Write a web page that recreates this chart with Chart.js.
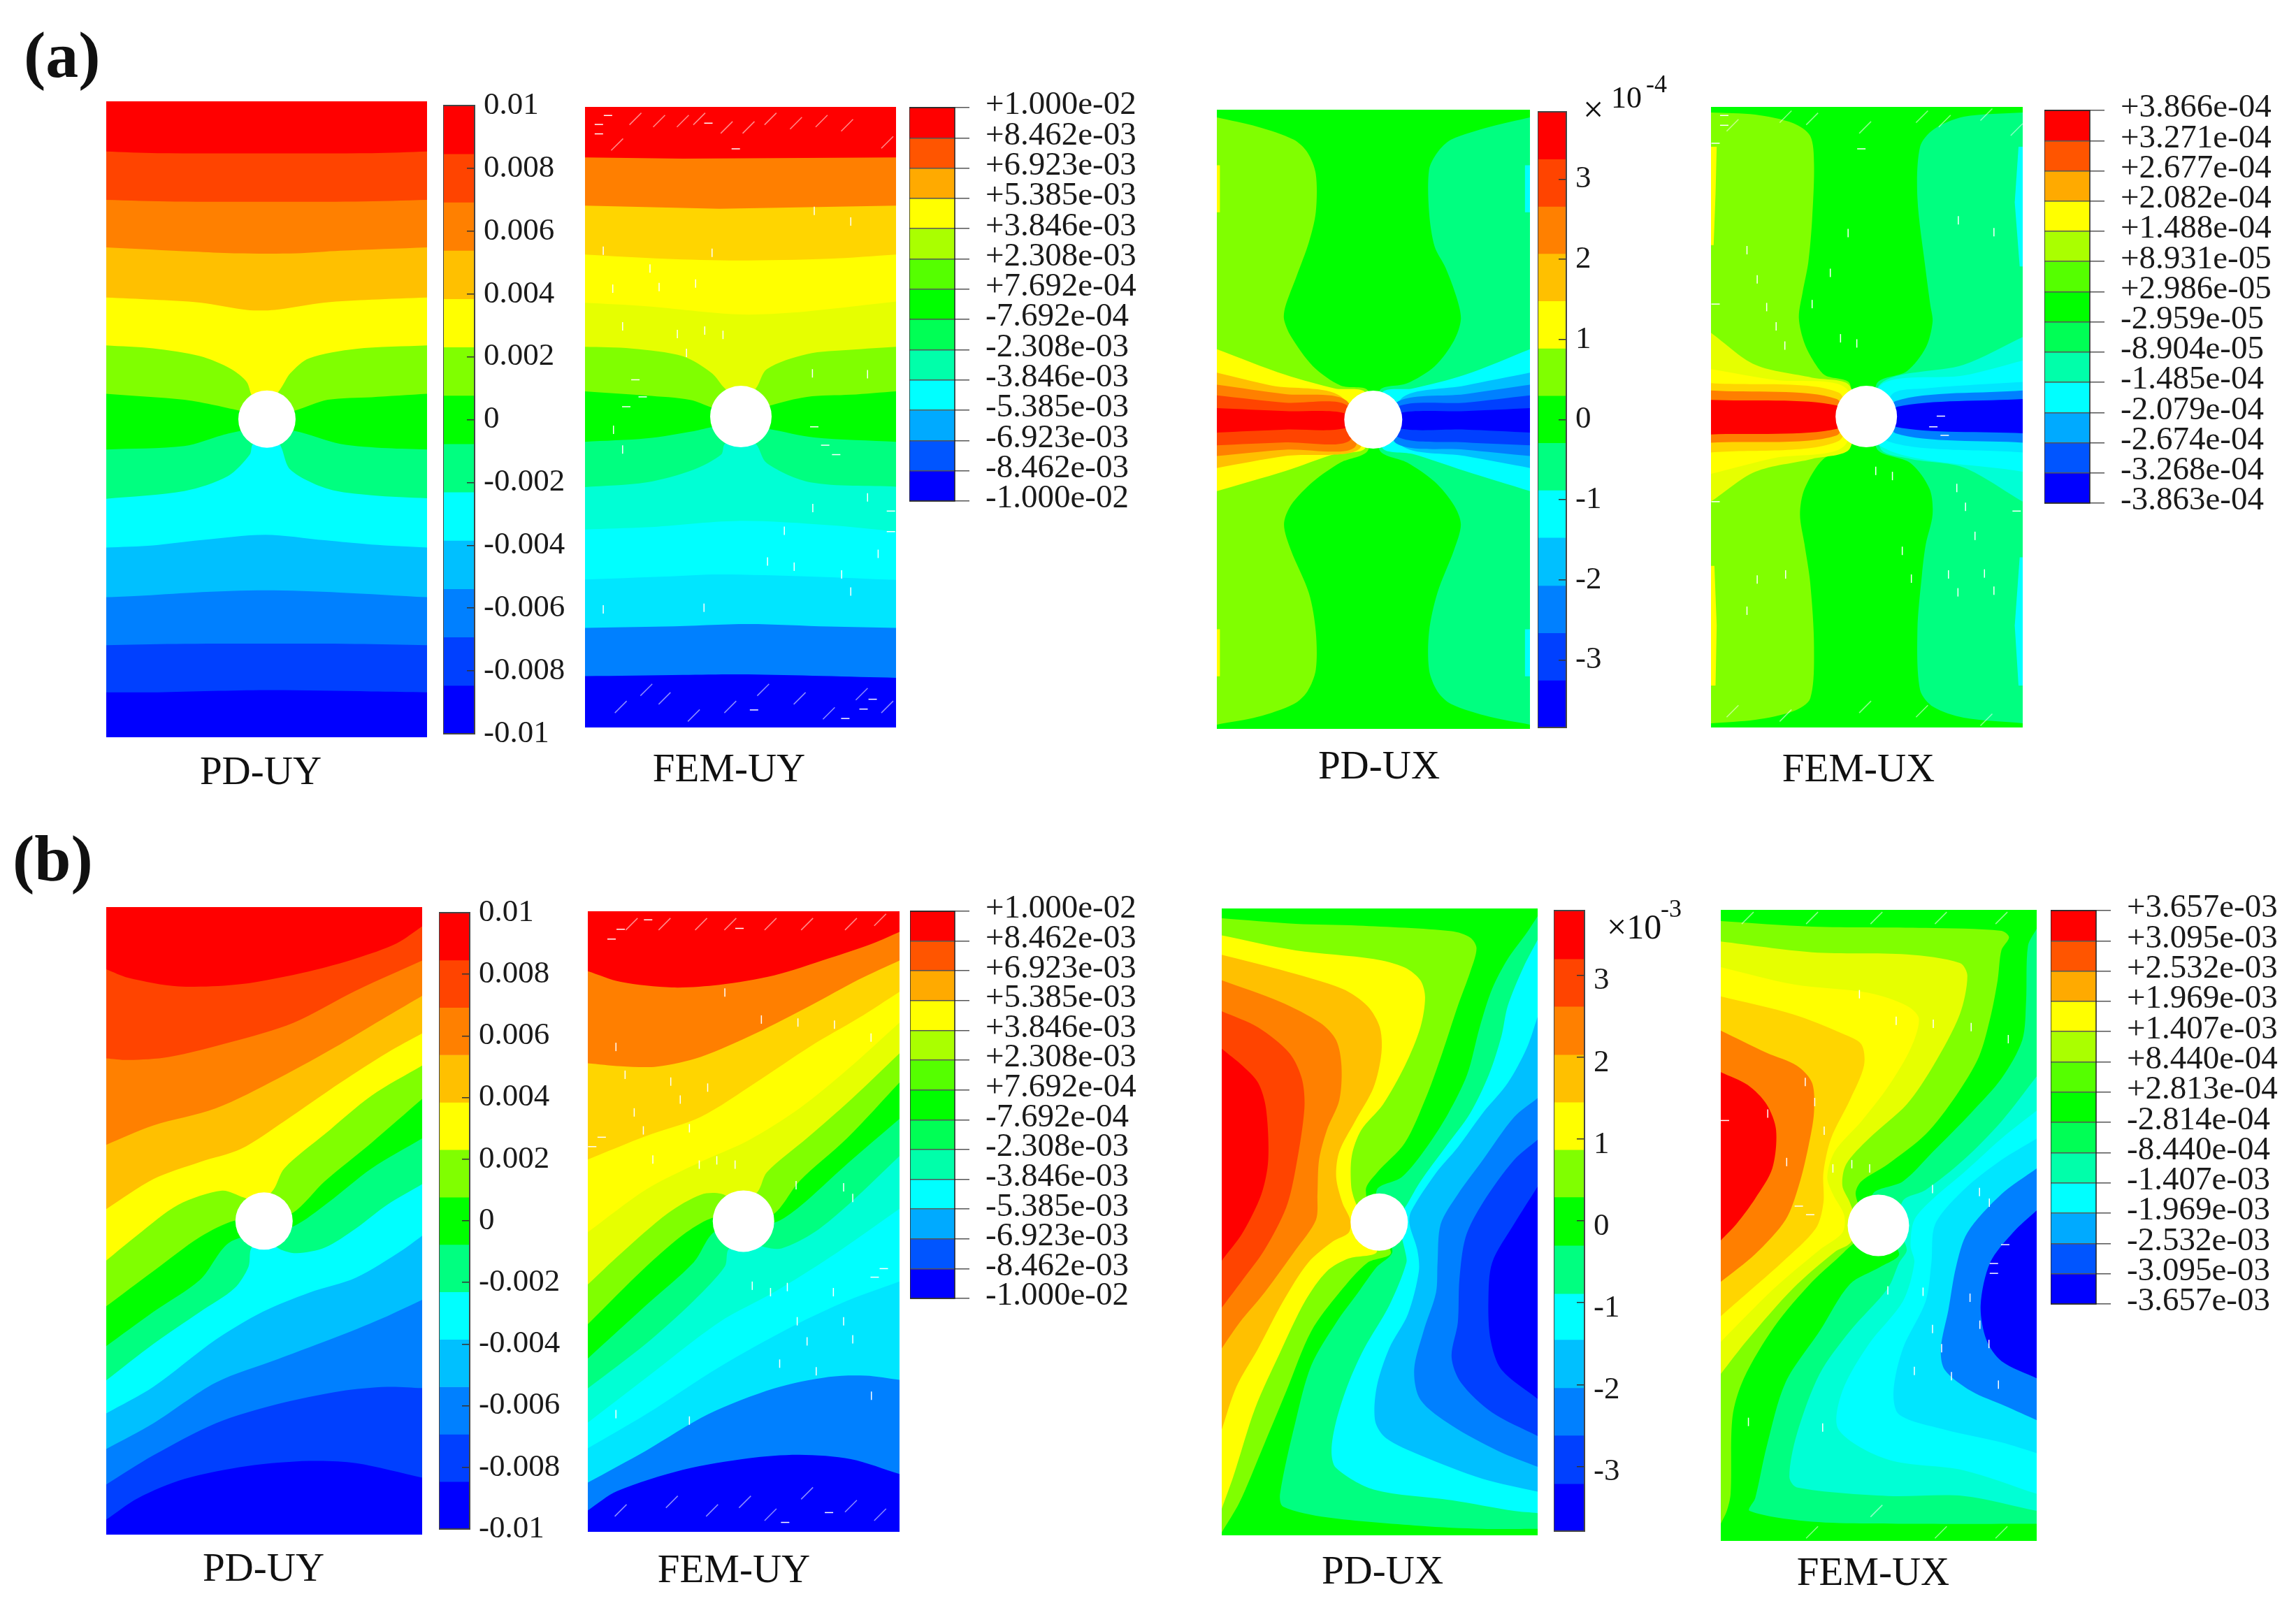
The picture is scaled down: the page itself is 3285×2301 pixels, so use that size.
<!DOCTYPE html>
<html>
<head>
<meta charset="utf-8">
<script src="https://cdn.jsdelivr.net/npm/chart.js@4"></script>
<style>
html, body { margin: 0; background: #fff; }
#fig { position: relative; width: 3285px; height: 2301px; overflow: hidden; }
#fig canvas { position: absolute; }
.txt { position: absolute; font-family: 'Liberation Serif', serif; color: #111; white-space: nowrap; line-height: 1; }
</style>
</head>
<body>
<div id="fig"></div>
<script>
// band colours, red (highest) to blue (lowest)
const pdColors = ['#ff0000', '#ff4400', '#ff8000', '#ffc000', '#ffff00', '#80ff00', '#00ff00', '#00ff80', '#00ffff', '#00c0ff', '#0080ff', '#0040ff', '#0000ff'];
const femColors = ['#ff0000', '#ff7f00', '#ffd500', '#ffff00', '#e6ff00', '#80ff00', '#00ff00', '#00ff80', '#00ffd5', '#00ffff', '#00e6ff', '#0080ff', '#0000ff'];
const legendColors = ['#ff0000', '#ff5500', '#ffaa00', '#ffff00', '#aaff00', '#55ff00', '#00ff00', '#00ff55', '#00ffaa', '#00ffff', '#00aaff', '#0055ff', '#0000ff'];

// tick labels
const pdUyTicks = ['0.01', '0.008', '0.006', '0.004', '0.002', '0', '-0.002', '-0.004', '-0.006', '-0.008', '-0.01'];
const pdUxTicks = ['3', '2', '1', '0', '-1', '-2', '-3'];
const femUyLabels = ['+1.000e-02', '+8.462e-03', '+6.923e-03', '+5.385e-03', '+3.846e-03', '+2.308e-03', '+7.692e-04', '-7.692e-04', '-2.308e-03', '-3.846e-03', '-5.385e-03', '-6.923e-03', '-8.462e-03', '-1.000e-02'];
const femUxALabels = ['+3.866e-04', '+3.271e-04', '+2.677e-04', '+2.082e-04', '+1.488e-04', '+8.931e-05', '+2.986e-05', '-2.959e-05', '-8.904e-05', '-1.485e-04', '-2.079e-04', '-2.674e-04', '-3.268e-04', '-3.863e-04'];
const femUxBLabels = ['+3.657e-03', '+3.095e-03', '+2.532e-03', '+1.969e-03', '+1.407e-03', '+8.440e-04', '+2.813e-04', '-2.814e-04', '-8.440e-04', '-1.407e-03', '-1.969e-03', '-2.532e-03', '-3.095e-03', '-3.657e-03'];
const pdUxAEdges = [3.84, 3.25, 2.66, 2.07, 1.48, 0.89, 0.30, -0.29, -0.88, -1.47, -2.07, -2.66, -3.25, -3.84];
const pdUxBEdges = [3.79, 3.20, 2.62, 2.03, 1.45, 0.87, 0.29, -0.30, -0.89, -1.45, -2.04, -2.62, -3.21, -3.79];

// contour lines, in that plate's own reading units: [band, close side, x,y,x,y...]
// painted first to last. U = fill upwards, L / R = fill out to that edge
const aPdUy = [
  [12, 'U', [50, 1600, 1078, 1600]],
  [11, 'U', [50, 1405, 215, 1405, 560, 1400, 900, 1403, 1078, 1405]],
  [10, 'U', [50, 1295, 270, 1292, 850, 1292, 1078, 1295]],
  [9, 'U', [50, 1183, 150, 1180, 330, 1172, 560, 1167, 800, 1172, 1078, 1183]],
  [8, 'U', [50, 1067, 200, 1062, 350, 1050, 560, 1037, 750, 1050, 900, 1060, 1078, 1067]],
  [7, 'U', [50, 953, 300, 935, 440, 900, 510, 850, 520, 825, 565, 810, 605, 825, 640, 885, 760, 930, 900, 945, 1078, 952]],
  [6, 'U', [50, 838, 300, 830, 420, 805, 480, 795, 565, 790, 655, 795, 800, 825, 950, 835, 1078, 838]],
  [5, 'U', [50, 708, 300, 722, 400, 735, 475, 747, 565, 760, 655, 747, 760, 722, 900, 716, 1078, 708]],
  [4, 'U', [50, 595, 200, 602, 350, 620, 450, 650, 500, 680, 520, 715, 565, 725, 605, 700, 640, 660, 700, 625, 850, 603, 1078, 595]],
  [3, 'U', [50, 483, 200, 488, 350, 495, 500, 512, 590, 512, 750, 495, 900, 488, 1078, 483]],
  [2, 'U', [50, 366, 330, 376, 460, 380, 660, 380, 800, 374, 1078, 366]],
  [1, 'U', [50, 255, 270, 259, 850, 259, 1078, 255]],
  [0, 'U', [50, 142, 215, 146, 900, 146, 1078, 142]]
];
const aFemUy = [
  [12, 'U', [32, 1600, 884, 1600]],
  [11, 'U', [32, 1368, 300, 1365, 480, 1364, 884, 1372]],
  [10, 'U', [32, 1255, 250, 1252, 480, 1246, 700, 1252, 884, 1255]],
  [9, 'U', [32, 1142, 250, 1135, 400, 1130, 650, 1135, 884, 1143]],
  [8, 'U', [32, 1025, 200, 1020, 450, 1005, 700, 1015, 884, 1030]],
  [7, 'U', [32, 926, 200, 915, 330, 885, 405, 850, 415, 825, 460, 810, 500, 825, 530, 870, 650, 915, 884, 925]],
  [6, 'U', [32, 820, 200, 812, 330, 795, 385, 785, 460, 780, 535, 790, 660, 810, 884, 820]],
  [5, 'U', [32, 702, 200, 712, 320, 722, 380, 740, 460, 760, 540, 735, 640, 715, 760, 710, 884, 702]],
  [4, 'U', [32, 598, 160, 602, 300, 620, 380, 660, 415, 695, 460, 720, 500, 695, 530, 650, 640, 615, 760, 605, 884, 598]],
  [3, 'U', [32, 495, 200, 503, 450, 522, 600, 518, 884, 492]],
  [2, 'U', [32, 382, 250, 392, 450, 396, 700, 392, 884, 382]],
  [1, 'U', [32, 268, 400, 275, 884, 268]],
  [0, 'U', [32, 155, 300, 158, 884, 155]]
];
const aPdUx = [
  [6, 'U', [52, 1600, 1185, 1600]],
  [5, 'L', [52, 78, 200, 100, 330, 130, 380, 160, 410, 210, 410, 300, 385, 370, 340, 450, 300, 520, 295, 550, 320, 590, 400, 660, 500, 705, 600, 718, 600, 855, 500, 885, 400, 930, 320, 985, 295, 1030, 320, 1090, 385, 1190, 410, 1280, 410, 1370, 380, 1420, 330, 1450, 200, 1480, 52, 1498]],
  [7, 'R', [1185, 78, 1040, 100, 900, 130, 850, 160, 820, 200, 820, 300, 840, 380, 880, 430, 920, 500, 935, 550, 910, 600, 840, 660, 740, 700, 640, 718, 640, 855, 740, 885, 840, 930, 910, 985, 935, 1030, 910, 1090, 850, 1190, 820, 1280, 820, 1370, 850, 1420, 900, 1450, 1040, 1480, 1185, 1498]],
  [4, 'L', [63, 190, 63, 300]],
  [4, 'L', [63, 1275, 63, 1385]],
  [8, 'R', [1167, 190, 1167, 300]],
  [8, 'R', [1167, 1275, 1167, 1385]],
  [4, 'L', [52, 620, 300, 680, 480, 712, 590, 722, 590, 850, 480, 865, 300, 905, 52, 952]],
  [3, 'L', [52, 675, 250, 705, 500, 730, 570, 852, 300, 870, 52, 898]],
  [2, 'L', [52, 703, 300, 725, 520, 740, 550, 850, 300, 855, 52, 870]],
  [1, 'L', [52, 728, 300, 745, 520, 750, 530, 835, 300, 838, 52, 845]],
  [0, 'L', [52, 758, 300, 765, 515, 770, 515, 805, 300, 808, 52, 815]],
  [8, 'R', [1185, 620, 950, 680, 760, 712, 650, 722, 650, 850, 760, 865, 950, 905, 1185, 952]],
  [9, 'R', [1185, 675, 950, 705, 720, 735, 720, 845, 950, 870, 1185, 898]],
  [10, 'R', [1185, 703, 950, 725, 700, 745, 700, 840, 950, 855, 1185, 870]],
  [11, 'R', [1185, 728, 950, 745, 705, 755, 705, 825, 950, 838, 1185, 845]],
  [12, 'R', [1185, 758, 950, 765, 710, 770, 710, 805, 950, 808, 1185, 815]]
];
const aFemUx = [
  [6, 'U', [33, 1600, 856, 1600]],
  [5, 'L', [33, 50, 150, 55, 250, 75, 295, 105, 305, 170, 300, 300, 290, 400, 275, 470, 265, 530, 280, 590, 310, 640, 335, 665, 400, 685, 400, 835, 330, 860, 280, 930, 268, 990, 280, 1060, 295, 1150, 305, 1300, 295, 1420, 250, 1450, 150, 1470, 33, 1478]],
  [7, 'R', [856, 50, 700, 60, 620, 90, 585, 130, 578, 250, 600, 420, 612, 500, 618, 540, 600, 600, 550, 655, 470, 685, 470, 835, 560, 870, 610, 930, 618, 990, 600, 1060, 590, 1130, 578, 1260, 585, 1400, 620, 1440, 700, 1465, 856, 1478]],
  [3, 'L', [48, 130, 45, 240, 40, 360]],
  [3, 'L', [42, 1110, 48, 1250, 45, 1390]],
  [9, 'R', [845, 130, 835, 260, 848, 410]],
  [9, 'R', [848, 1090, 835, 1250, 845, 1390]],
  [4, 'L', [33, 565, 150, 640, 300, 670, 400, 690, 400, 835, 300, 860, 150, 890, 33, 960]],
  [3, 'L', [33, 650, 200, 675, 390, 695, 385, 830, 200, 858, 33, 895]],
  [2, 'L', [33, 683, 370, 705, 370, 818, 33, 845]],
  [1, 'L', [33, 700, 365, 720, 365, 805, 33, 822]],
  [0, 'L', [33, 722, 365, 735, 365, 790, 33, 803]],
  [8, 'R', [856, 575, 700, 640, 480, 685, 480, 835, 560, 860, 700, 880, 856, 960]],
  [9, 'R', [856, 630, 700, 665, 480, 688, 480, 830, 856, 890]],
  [10, 'R', [856, 680, 600, 695, 510, 710, 490, 815, 856, 845]],
  [11, 'R', [856, 700, 520, 725, 520, 800, 856, 822]],
  [12, 'R', [856, 720, 525, 738, 520, 785, 856, 800]]
];
const bPdUy = [
  [12, 'U', [49, 1600, 1062, 1600]],
  [11, 'U', [49, 1460, 150, 1410, 300, 1365, 500, 1335, 700, 1323, 850, 1328, 1062, 1362]],
  [10, 'U', [49, 1378, 200, 1310, 400, 1235, 600, 1190, 800, 1160, 950, 1150, 1062, 1153]],
  [9, 'U', [49, 1295, 200, 1235, 400, 1140, 600, 1085, 800, 1030, 950, 985, 1062, 947]],
  [8, 'U', [49, 1212, 200, 1150, 400, 1040, 550, 975, 700, 930, 850, 895, 1000, 830, 1062, 797]],
  [7, 'U', [49, 1135, 200, 1050, 350, 975, 460, 920, 505, 870, 515, 825, 560, 810, 610, 830, 660, 838, 750, 825, 850, 780, 950, 725, 1062, 677]],
  [6, 'U', [49, 1055, 200, 975, 350, 900, 440, 815, 550, 790, 650, 775, 760, 720, 900, 640, 1062, 570]],
  [5, 'U', [49, 962, 200, 880, 350, 800, 460, 762, 550, 760, 645, 745, 750, 670, 900, 580, 1062, 478]],
  [4, 'U', [49, 855, 150, 795, 280, 725, 420, 692, 490, 708, 540, 720, 585, 690, 620, 640, 750, 560, 900, 470, 1062, 400]],
  [3, 'U', [49, 735, 200, 665, 350, 625, 480, 595, 620, 530, 800, 440, 950, 370, 1062, 325]],
  [2, 'U', [49, 585, 200, 540, 400, 500, 600, 430, 800, 350, 950, 285, 1062, 237]],
  [1, 'U', [49, 383, 120, 387, 250, 380, 450, 345, 650, 300, 850, 225, 1062, 155]],
  [0, 'U', [49, 175, 120, 195, 280, 215, 480, 210, 700, 180, 850, 150, 980, 115, 1062, 75]]
];
const bFemUy = [
  [12, 'U', [40, 1600, 893, 1600]],
  [11, 'U', [40, 1440, 120, 1395, 300, 1345, 480, 1318, 620, 1310, 760, 1320, 893, 1355]],
  [10, 'U', [40, 1375, 200, 1300, 370, 1215, 550, 1155, 700, 1128, 800, 1125, 893, 1135]],
  [9, 'U', [40, 1295, 200, 1215, 400, 1105, 600, 1010, 750, 950, 893, 905]],
  [8, 'U', [40, 1235, 200, 1130, 400, 1000, 550, 930, 700, 850, 893, 735]],
  [7, 'U', [40, 1155, 200, 1050, 330, 950, 415, 870, 425, 830, 470, 810, 525, 825, 570, 828, 660, 790, 760, 720, 893, 612]],
  [6, 'U', [40, 1085, 200, 960, 330, 860, 385, 790, 470, 770, 550, 768, 620, 730, 750, 630, 893, 525]],
  [5, 'U', [40, 1005, 200, 870, 310, 790, 385, 755, 470, 750, 545, 750, 620, 670, 750, 570, 893, 440]],
  [4, 'U', [40, 912, 130, 840, 260, 745, 350, 702, 405, 700, 460, 720, 505, 695, 530, 650, 640, 570, 760, 480, 893, 372]],
  [3, 'U', [40, 790, 200, 690, 350, 625, 480, 575, 620, 500, 750, 410, 893, 300]],
  [2, 'U', [40, 620, 200, 565, 350, 520, 500, 440, 650, 355, 780, 290, 893, 228]],
  [1, 'U', [40, 395, 130, 402, 230, 403, 350, 380, 500, 325, 650, 260, 780, 200, 893, 155]],
  [0, 'U', [40, 180, 130, 205, 270, 218, 400, 212, 550, 190, 700, 150, 820, 115, 893, 88]]
];
const bPdUx = [
  [6, 'U', [63, 1600, 1076, 1600]],
  [5, 'L', [63, 55, 300, 68, 500, 72, 800, 85, 860, 100, 880, 125, 860, 180, 820, 260, 770, 370, 720, 470, 650, 580, 560, 650, 525, 690, 560, 780, 605, 838, 530, 860, 440, 930, 350, 1020, 270, 1160, 190, 1300, 120, 1420, 63, 1490]],
  [4, 'L', [63, 95, 300, 130, 550, 150, 650, 170, 700, 200, 715, 240, 700, 310, 650, 400, 580, 490, 510, 550, 480, 610, 478, 680, 490, 715, 530, 780, 560, 835, 470, 850, 400, 880, 330, 950, 250, 1070, 170, 1200, 100, 1360, 63, 1435]],
  [3, 'L', [63, 140, 250, 175, 450, 220, 530, 260, 570, 310, 575, 370, 550, 450, 490, 530, 440, 600, 430, 660, 450, 720, 475, 760, 470, 790, 420, 810, 340, 860, 260, 950, 180, 1060, 110, 1150, 63, 1250]],
  [2, 'L', [63, 200, 250, 250, 380, 300, 430, 340, 447, 400, 440, 480, 400, 550, 375, 620, 370, 700, 365, 760, 300, 830, 200, 930, 120, 1000, 63, 1060]],
  [1, 'L', [63, 272, 180, 310, 280, 370, 320, 430, 328, 500, 300, 640, 270, 730, 200, 830, 130, 900, 63, 965]],
  [0, 'L', [63, 360, 130, 400, 180, 440, 205, 500, 212, 620, 190, 700, 130, 790, 63, 855]],
  [7, 'R', [1076, 50, 1040, 90, 980, 150, 930, 220, 890, 310, 850, 420, 790, 510, 720, 590, 640, 660, 560, 690, 580, 780, 610, 835, 560, 870, 500, 930, 430, 1000, 350, 1100, 300, 1230, 250, 1400, 260, 1430, 400, 1455, 700, 1475, 900, 1482, 1076, 1482]],
  [8, 'R', [1076, 105, 1030, 170, 980, 260, 960, 330, 920, 420, 860, 510, 780, 590, 700, 670, 660, 720, 630, 760, 640, 800, 650, 830, 655, 860, 600, 960, 520, 1060, 470, 1140, 430, 1230, 415, 1300, 430, 1340, 550, 1390, 800, 1415, 1000, 1440, 1076, 1445]],
  [9, 'R', [1076, 285, 1040, 360, 980, 440, 900, 510, 820, 590, 750, 650, 670, 740, 665, 770, 690, 830, 695, 880, 660, 980, 600, 1060, 560, 1150, 555, 1230, 590, 1270, 700, 1310, 900, 1365, 1076, 1395]],
  [10, 'R', [1076, 475, 1000, 520, 900, 620, 820, 700, 765, 770, 755, 860, 750, 930, 710, 1020, 680, 1110, 700, 1180, 800, 1240, 950, 1300, 1076, 1337]],
  [11, 'R', [1076, 572, 1000, 620, 900, 720, 845, 800, 825, 900, 820, 1000, 800, 1080, 830, 1140, 930, 1210, 1076, 1265]],
  [12, 'R', [1076, 682, 1000, 770, 930, 860, 918, 950, 925, 1040, 960, 1110, 1076, 1178]]
];
const bFemUx = [
  [6, 'U', [59, 1600, 893, 1600]],
  [5, 'L', [59, 62, 300, 75, 600, 78, 800, 85, 820, 100, 800, 130, 790, 200, 770, 290, 740, 380, 680, 470, 600, 560, 500, 630, 430, 670, 415, 700, 440, 780, 385, 835, 300, 905, 200, 1010, 120, 1130, 90, 1220, 85, 1400, 75, 1440, 59, 1470]],
  [4, 'L', [59, 110, 300, 135, 550, 140, 690, 160, 710, 190, 690, 280, 620, 400, 550, 490, 450, 570, 390, 630, 380, 680, 400, 720, 420, 780, 400, 815, 360, 835, 250, 920, 130, 1040, 59, 1120]],
  [3, 'L', [59, 170, 250, 210, 450, 230, 550, 260, 582, 290, 560, 360, 500, 450, 430, 530, 360, 600, 340, 660, 355, 700, 385, 750, 380, 790, 320, 830, 200, 920, 59, 1045]],
  [2, 'L', [59, 238, 250, 280, 380, 325, 430, 350, 437, 400, 400, 480, 350, 570, 330, 650, 330, 720, 310, 780, 220, 860, 130, 930, 59, 985]],
  [1, 'L', [59, 318, 180, 370, 260, 400, 300, 440, 305, 510, 290, 590, 265, 680, 230, 760, 150, 840, 59, 905]],
  [0, 'L', [59, 415, 130, 445, 180, 490, 205, 550, 195, 640, 150, 710, 100, 770, 59, 808]],
  [7, 'R', [893, 80, 870, 120, 865, 250, 855, 340, 800, 430, 720, 510, 620, 600, 540, 670, 460, 700, 480, 780, 530, 840, 480, 870, 400, 910, 320, 1020, 230, 1140, 180, 1290, 150, 1410, 135, 1440, 300, 1465, 600, 1470, 893, 1470]],
  [8, 'R', [893, 425, 800, 530, 700, 620, 600, 690, 540, 715, 530, 780, 550, 830, 530, 860, 500, 920, 400, 1020, 320, 1120, 260, 1260, 240, 1360, 260, 1385, 500, 1405, 700, 1405, 893, 1440]],
  [9, 'R', [893, 505, 800, 570, 700, 650, 620, 710, 570, 760, 560, 820, 570, 860, 540, 950, 450, 1050, 380, 1160, 370, 1250, 500, 1320, 700, 1345, 893, 1400]],
  [10, 'R', [893, 570, 800, 620, 700, 690, 625, 770, 615, 860, 600, 950, 540, 1060, 515, 1160, 530, 1215, 650, 1250, 800, 1280, 893, 1305]],
  [11, 'R', [893, 640, 800, 700, 710, 790, 680, 870, 660, 970, 640, 1060, 650, 1110, 720, 1160, 810, 1195, 893, 1228]],
  [12, 'R', [893, 738, 830, 790, 770, 860, 745, 960, 760, 1040, 800, 1090, 893, 1130]]
];

// white mesh flecks on the FEM plates, x,y: upright, flat and slanted
const aFemUyUp = [210, 415, 108, 462, 235, 458, 335, 450, 380, 378, 82, 373, 760, 305, 660, 280, 135, 550, 285, 568, 360, 560, 410, 570, 310, 612, 655, 660, 806, 662, 110, 792, 135, 838, 656, 975, 806, 950, 578, 1028, 532, 1100, 605, 1112, 835, 1082, 735, 1130, 760, 1170, 82, 1212, 358, 1208];
const aFemUyFlat = [70, 78, 70, 100, 95, 57, 370, 75, 445, 135, 190, 715, 170, 675, 145, 738, 660, 785, 720, 850, 690, 828, 870, 982, 870, 1030, 495, 1447, 820, 1422, 795, 1445, 745, 1467];
const aFemUySlant = [120, 125, 170, 65, 235, 70, 300, 70, 345, 65, 420, 85, 480, 85, 540, 65, 610, 75, 680, 70, 750, 80, 860, 120, 130, 1440, 200, 1400, 250, 1420, 330, 1460, 430, 1440, 520, 1400, 620, 1420, 700, 1455, 790, 1410, 860, 1440];
const aFemUxUp = [395, 332, 128, 372, 155, 440, 348, 425, 300, 498, 180, 505, 205, 550, 375, 578, 418, 590, 228, 595, 686, 302, 780, 330, 512, 900, 468, 888, 682, 928, 705, 972, 128, 1215, 155, 1142, 230, 1130, 660, 1130, 755, 1128, 780, 1168, 685, 1172, 538, 1075, 562, 1140, 730, 1040];
const aFemUxFlat = [68, 57, 68, 80, 45, 122, 430, 135, 45, 498, 45, 960, 840, 982, 620, 785, 650, 805, 640, 760];
const aFemUxSlant = [90, 80, 230, 60, 300, 65, 440, 85, 590, 60, 650, 70, 760, 55, 840, 90, 90, 1450, 230, 1460, 440, 1440, 590, 1450, 760, 1470];
const bFemUyUp = [415, 230, 515, 293, 615, 300, 715, 305, 815, 335, 117, 357, 142, 422, 267, 438, 368, 452, 293, 480, 167, 510, 192, 552, 318, 547, 218, 620, 345, 632, 393, 622, 443, 632, 610, 680, 740, 685, 765, 710, 490, 915, 540, 930, 586, 918, 712, 930, 613, 998, 740, 998, 640, 1045, 765, 1040, 565, 1097, 665, 1115, 816, 1172, 117, 1215, 318, 1230];
const bFemUyFlat = [205, 60, 130, 82, 105, 105, 455, 80, 78, 568, 52, 590, 850, 875, 825, 895, 700, 1445, 580, 1468];
const bFemUySlant = [160, 70, 250, 70, 350, 70, 430, 70, 540, 70, 640, 70, 760, 70, 840, 60, 130, 1440, 270, 1420, 380, 1440, 470, 1420, 540, 1450, 640, 1400, 760, 1430, 840, 1450];
const bFemUxUp = [425, 233, 522, 295, 620, 302, 720, 310, 818, 338, 282, 438, 183, 512, 332, 552, 355, 640, 405, 630, 452, 640, 233, 625, 307, 485, 618, 688, 742, 695, 768, 720, 500, 925, 593, 928, 717, 942, 618, 1015, 743, 1005, 642, 1060, 767, 1050, 570, 1113, 668, 1125, 792, 1145, 132, 1232, 328, 1245];
const bFemUxFlat = [70, 528, 780, 862, 780, 885, 810, 818, 295, 748, 265, 728];
const bFemUxSlant = [130, 55, 300, 55, 470, 55, 640, 55, 800, 55, 300, 1490, 470, 1440, 640, 1490, 800, 1490];

const SERIF = "'Liberation Serif', serif";
const fig = document.getElementById('fig');

function addCanvas(x, y, w, h) {
    const c = document.createElement('canvas');
    c.width = w;
    c.height = h;
    c.style.left = x + 'px';
    c.style.top = y + 'px';
    fig.appendChild(c);
    return c;
}

function addText(text, x, y, size, center, bold) {
    const d = document.createElement('div');
    d.className = 'txt';
    d.textContent = text;
    d.style.left = x + 'px';
    d.style.top = (y - size / 2) + 'px';
    d.style.fontSize = size + 'px';
    if (center) d.style.transform = 'translateX(-50%)';
    if (bold) d.style.fontWeight = 'bold';
    fig.appendChild(d);
}

function toPoints(flat) {
    const pts = [];
    for (let i = 0; i < flat.length; i += 2) pts.push({ x: flat[i], y: flat[i + 1] });
    return pts;
}

// turn a contour into a closed outline by walking round outside the plate,
// carrying on in the line's own direction first so the edge of the plate stays smooth
function outline(flat, side, range) {
    const [x0, x1, y0] = range;
    const pts = toPoints(flat);
    const n = pts.length;
    let first = pts[0], last = pts[n - 1];
    if (n > 3) {
        const endOut = { x: 2 * last.x - pts[n - 2].x, y: 2 * last.y - pts[n - 2].y };
        const startOut = { x: 2 * first.x - pts[1].x, y: 2 * first.y - pts[1].y };
        pts.push(endOut);
        pts.unshift(startOut);
        last = endOut;
        first = startOut;
    }
    const farL = x0 - 300, farR = x1 + 300, farT = y0 - 300;
    if (side === 'U') pts.push({ x: farR, y: last.y }, { x: farR, y: farT }, { x: farL, y: farT }, { x: farL, y: first.y });
    if (side === 'L') pts.push({ x: farL, y: last.y }, { x: farL, y: first.y });
    if (side === 'R') pts.push({ x: farR, y: last.y }, { x: farR, y: first.y });
    return pts;
}

function fleckSet(flat, rotation, radius, color) {
    return {
        data: toPoints(flat),
        pointStyle: 'line',
        pointRotation: rotation,
        pointRadius: radius,
        pointBorderColor: color,
        pointBorderWidth: 1.5
    };
}

function drawPlate(cfg) {
    const [x, y, w, h] = cfg.rect;
    const range = cfg.range;
    const bands = cfg.bands.map(b => ({
        data: outline(b[2], b[1], range),
        showLine: true,
        fill: 'shape',
        backgroundColor: cfg.colors[b[0]],
        borderWidth: 0,
        pointRadius: 0,
        // the short edge patches stay straight
        tension: b[2].length > 6 ? 0.3 : 0
    }));
    const hole = {
        data: [{ x: cfg.hole[0], y: cfg.hole[1] }],
        pointRadius: cfg.holeRadius,
        pointBackgroundColor: '#fff',
        pointBorderWidth: 0
    };
    const flecks = cfg.up ? [
        fleckSet(cfg.up, 90, 6, '#fff'),
        fleckSet(cfg.flat, 0, 6, '#fff'),
        fleckSet(cfg.slant, -45, 12, 'rgba(255,255,255,0.55)')
    ] : [];
    // chart.js paints the first dataset last
    new Chart(addCanvas(x, y, w, h), {
        type: 'scatter',
        data: { datasets: [hole].concat(flecks, bands.reverse()) },
        options: {
            responsive: false,
            animation: false,
            events: [],
            layout: { padding: 0, autoPadding: false },
            plugins: { legend: { display: false }, tooltip: { enabled: false } },
            scales: {
                x: { type: 'linear', display: false, min: range[0], max: range[1] },
                y: { type: 'linear', display: false, reverse: true, min: range[2], max: range[3] }
            }
        }
    });
}

const framePlugin = {
    id: 'frame',
    afterDraw(chart, args, opts) {
        const a = chart.chartArea, ctx = chart.ctx;
        ctx.save();
        ctx.strokeStyle = opts.color;
        ctx.lineWidth = opts.width;
        ctx.strokeRect(a.left, a.top, a.right - a.left, a.bottom - a.top);
        ctx.restore();
    }
};

function drawBar(cfg) {
    const [x, y, w, h] = cfg.rect;
    const pad = 80;
    const edges = cfg.edges;
    const datasets = cfg.colors.map((c, i) => ({
        data: [[edges[i + 1], edges[i]]],
        backgroundColor: c,
        grouped: false,
        barPercentage: 1,
        categoryPercentage: 1,
        borderWidth: 0
    }));
    new Chart(addCanvas(x, y - pad, w + cfg.labelWidth, h + 2 * pad), {
        type: 'bar',
        data: { labels: [''], datasets: datasets },
        options: {
            responsive: false,
            animation: false,
            events: [],
            layout: { padding: { top: pad, bottom: pad, left: 0, right: 0 }, autoPadding: false },
            plugins: {
                legend: { display: false },
                tooltip: { enabled: false },
                frame: { color: cfg.frame, width: cfg.frameWidth }
            },
            scales: {
                x: { display: false },
                y: {
                    position: 'right',
                    min: edges[edges.length - 1],
                    max: edges[0],
                    afterBuildTicks: s => { s.ticks = cfg.tickValues.map(v => ({ value: v })); },
                    afterFit: s => { s.width = cfg.labelWidth; },
                    border: { display: false },
                    grid: {
                        z: 1,
                        drawOnChartArea: cfg.across,
                        tickLength: cfg.tickLength,
                        color: cfg.tickColor,
                        lineWidth: cfg.tickWidth
                    },
                    ticks: {
                        autoSkip: false,
                        maxRotation: 0,
                        padding: cfg.padding,
                        labelOffset: cfg.labelOffset,
                        color: '#1a1a1a',
                        font: { family: SERIF, size: cfg.fontSize },
                        callback: (v, i) => cfg.labels[i]
                    }
                }
            }
        },
        plugins: [framePlugin]
    });
}

function pdBar(rect, labels, edges, tickValues, labelOffset) {
    drawBar({
        rect, labels, edges, tickValues, labelOffset, colors: pdColors, labelWidth: 240, fontSize: 45,
        across: false, tickLength: -11, padding: 24,
        tickColor: '#333', tickWidth: 1.5, frame: '#444', frameWidth: 2
    });
}

function femBar(rect, labels) {
    const edges = labels.map(Number);
    drawBar({
        rect, labels, edges, tickValues: edges, colors: legendColors, labelWidth: 270, fontSize: 47,
        across: true, tickLength: 21, padding: 23, labelOffset: -3,
        tickColor: '#555', tickWidth: 1.5, frame: '#222', frameWidth: 1.5
    });
}

drawPlate({ rect: [152, 145, 459, 910], range: [50, 1078, 25, 1510], hole: [565, 767], holeRadius: 41, bands: aPdUy, colors: pdColors });
drawPlate({ rect: [837, 153, 445, 888], range: [32, 884, 37, 1488], hole: [459, 761], holeRadius: 44, bands: aFemUy, colors: femColors, up: aFemUyUp, flat: aFemUyFlat, slant: aFemUySlant });
drawPlate({ rect: [1741, 157, 448, 886], range: [52, 1185, 60, 1508], hole: [618, 785], holeRadius: 41.5, bands: aPdUx, colors: pdColors });
drawPlate({ rect: [2448, 153, 446, 888], range: [33, 856, 37, 1488], hole: [443, 761], holeRadius: 44, bands: aFemUx, colors: femColors, up: aFemUxUp, flat: aFemUxFlat, slant: aFemUxSlant });
drawPlate({ rect: [152, 1298, 452, 898], range: [49, 1062, 30, 1495], hole: [555, 763], holeRadius: 41, bands: bPdUy, colors: pdColors });
drawPlate({ rect: [841, 1304, 446, 888], range: [40, 893, 40, 1490], hole: [466, 764], holeRadius: 44, bands: bFemUy, colors: femColors, up: bFemUyUp, flat: bFemUyFlat, slant: bFemUySlant });
drawPlate({ rect: [1748, 1300, 452, 897], range: [63, 1076, 32, 1497], hole: [568, 765], holeRadius: 41, bands: bPdUx, colors: pdColors });
drawPlate({ rect: [2462, 1302, 452, 903], range: [59, 893, 36, 1510], hole: [475, 773], holeRadius: 44, bands: bFemUx, colors: femColors, up: bFemUxUp, flat: bFemUxFlat, slant: bFemUxSlant });

const uyEdges = femUyLabels.map(Number);
const uyTickValues = pdUyTicks.map(Number);
const uxTickValues = pdUxTicks.map(Number);
pdBar([634, 151, 45, 899], pdUyTicks, uyEdges, uyTickValues, 0);
femBar([1301, 154, 65, 563], femUyLabels);
pdBar([2200, 160, 41, 881], pdUxTicks, pdUxAEdges, uxTickValues, 0);
femBar([2925, 158, 65, 562], femUxALabels);
pdBar([628, 1306, 44, 882], pdUyTicks, uyEdges, uyTickValues, 0);
femBar([1302, 1304, 64, 554], femUyLabels);
pdBar([2223, 1303, 44, 888], pdUxTicks, pdUxBEdges, uxTickValues, 8);
femBar([2934, 1303, 65, 563], femUxBLabels);

addText('(a)', 34, 78, 94, false, true);
addText('(b)', 18, 1228, 94, false, true);
addText('PD-UY', 373, 1102, 57, true);
addText('FEM-UY', 1043, 1098, 57, true);
addText('PD-UX', 1973, 1094, 57, true);
addText('FEM-UX', 2659, 1098, 57, true);
addText('PD-UY', 377, 2242, 57, true);
addText('FEM-UY', 1050, 2244, 57, true);
addText('PD-UX', 1978, 2246, 57, true);
addText('FEM-UX', 2680, 2248, 57, true);
addText('×', 2265, 157, 52, false);
addText('10', 2305, 140, 44, false);
addText('-4', 2355, 120, 36, false);
addText('×10', 2299, 1326, 50, false);
addText('-3', 2376, 1300, 36, false);
</script>
</body>
</html>
